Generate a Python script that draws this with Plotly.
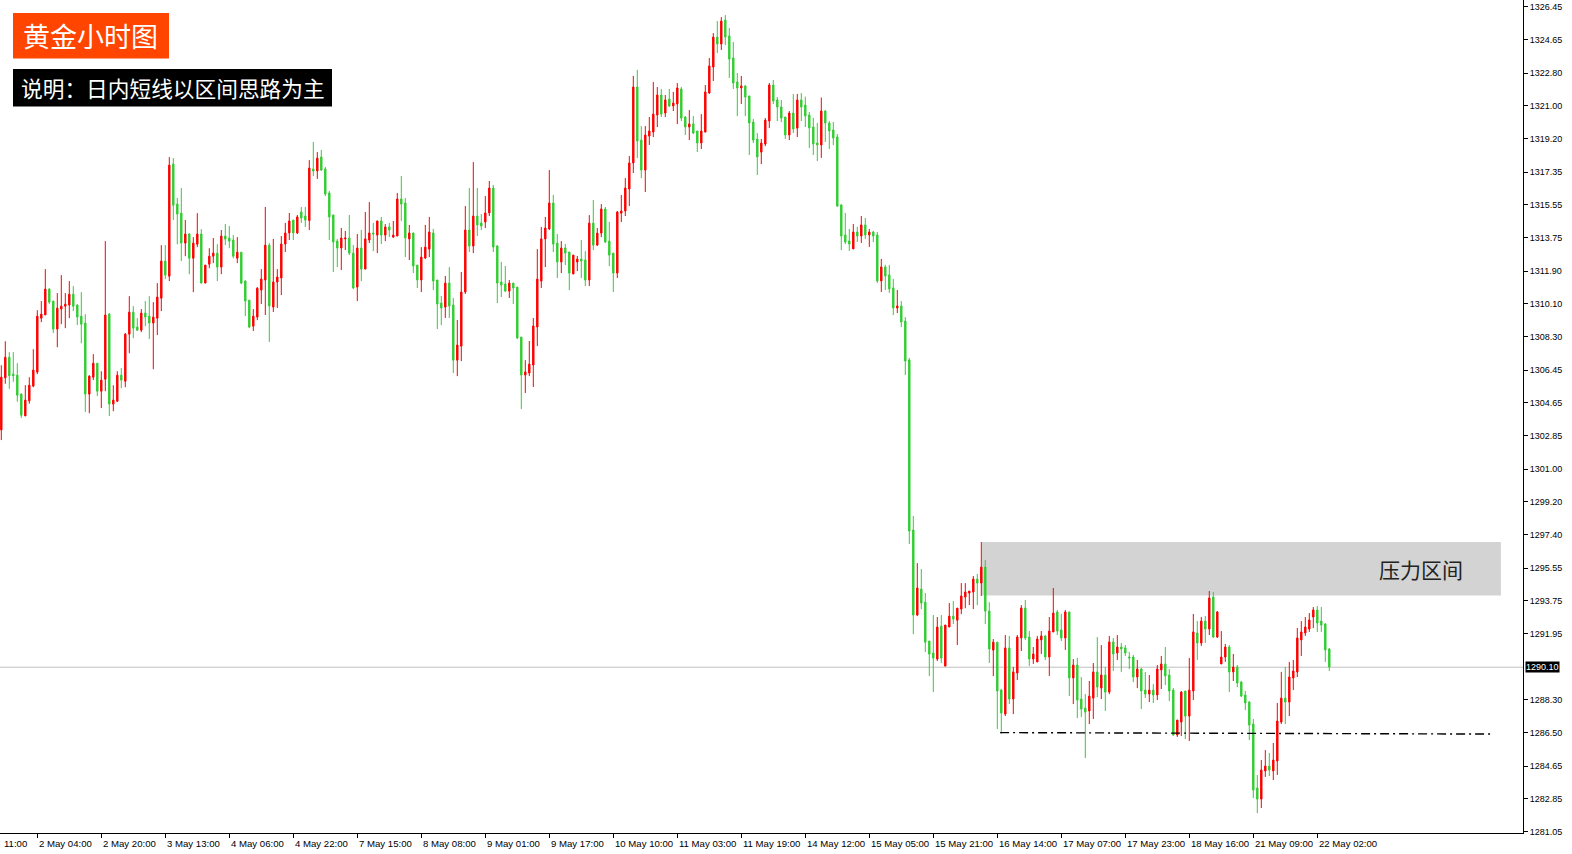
import plotly.graph_objects as go

# ---------------- data (hourly gold candles) ----------------
opens = [
1303.16,1306.03,1307.16,1306.23,1306.17,1305.13,1303.93,1304.76,1305.57,1306.34,
1309.31,1309.49,1310.91,1310.25,1308.71,1309.81,1309.97,1310.03,1310.63,1310.03,
1309.42,1309.04,1305.13,1306.06,1306.83,1305.29,1305.95,1309.53,1304.58,1304.74,
1306.17,1305.84,1308.43,1309.64,1308.82,1308.65,1309.59,1309.42,1309.04,1309.31,
1310.41,1312.45,1311.62,1317.79,1315.59,1315.09,1313.44,1313.94,1312.61,1313.38,
1313.94,1311.24,1312.28,1312.72,1312.89,1312.12,1313.83,1313.72,1313.61,1312.61,
1312.94,1311.35,1310.30,1308.87,1309.37,1310.86,1311.41,1313.33,1309.92,1311.30,
1311.52,1313.39,1314.00,1314.71,1314.00,1315.15,1314.93,1314.68,1317.52,1317.41,
1318.18,1317.52,1316.20,1314.99,1313.55,1313.17,1313.67,1313.72,1312.89,1311.02,
1313.17,1312.01,1313.61,1314.00,1313.88,1314.66,1313.88,1314.33,1313.77,1313.83,
1315.87,1315.65,1313.67,1314.00,1312.23,1311.41,1312.62,1313.11,1314.00,1311.41,
1310.14,1309.92,1311.24,1310.03,1307.00,1307.77,1310.75,1314.16,1313.28,1314.93,
1314.55,1314.60,1315.10,1316.47,1313.28,1311.30,1311.19,1310.80,1311.24,1311.02,
1308.27,1306.18,1306.29,1306.73,1308.82,1311.35,1313.67,1314.22,1315.65,1313.44,
1312.40,1313.17,1312.95,1311.74,1312.40,1312.56,1312.51,1311.41,1314.54,1313.33,
1313.99,1315.32,1313.55,1312.89,1311.79,1315.09,1315.21,1316.42,1317.85,1322.03,
1319.11,1317.46,1319.33,1319.55,1320.49,1321.59,1320.60,1321.37,1320.99,1321.10,
1321.92,1320.38,1319.83,1320.00,1319.61,1318.95,1319.55,1321.70,1323.13,1324.78,
1324.40,1325.72,1324.84,1323.63,1322.31,1321.98,1322.09,1321.54,1320.10,1319.17,
1318.45,1318.89,1320.16,1322.14,1321.32,1320.93,1320.38,1319.39,1320.60,1319.77,
1321.32,1321.04,1320.49,1319.83,1318.95,1318.84,1320.71,1320.05,1319.67,1319.28,
1315.54,1313.89,1313.56,1313.12,1314.05,1313.83,1314.44,1313.89,1314.05,1313.89,
1311.36,1312.13,1311.69,1310.97,1309.87,1309.98,1309.15,1307.01,1297.65,1292.97,
1294.40,1293.68,1291.54,1290.88,1290.55,1292.36,1290.16,1292.31,1292.91,1292.69,
1293.30,1293.96,1294.18,1294.24,1294.95,1294.73,1295.61,1293.19,1291.04,1291.48,
1288.84,1287.52,1291.16,1288.35,1289.78,1291.71,1293.36,1291.76,1290.55,1290.39,
1291.60,1291.82,1290.66,1292.04,1293.14,1292.15,1291.71,1293.14,1289.51,1290.22,
1288.35,1287.85,1287.69,1288.40,1289.84,1288.95,1289.67,1288.73,1291.49,1290.88,
1291.21,1291.16,1290.66,1290.66,1289.56,1290.00,1288.84,1288.62,1288.84,1288.57,
1289.95,1290.28,1289.67,1288.84,1286.37,1287.08,1288.79,1287.41,1288.79,1291.98,
1291.43,1292.64,1292.20,1293.96,1291.76,1290.28,1290.66,1291.21,1289.84,1290.11,
1289.28,1288.57,1288.18,1286.97,1283.45,1282.84,1284.39,1284.66,1284.39,1284.94,
1287.08,1288.40,1288.18,1289.51,1289.84,1291.60,1291.98,1292.20,1292.86,1293.25,
1292.64,1292.48,1291.10,
]
highs = [
1306.72,1308.04,1307.44,1307.44,1306.83,1305.18,1305.62,1306.06,1307.60,1309.75,
1310.25,1312.01,1310.96,1310.25,1310.69,1311.68,1310.69,1311.35,1311.07,1310.08,
1310.74,1309.53,1306.17,1307.33,1306.83,1306.39,1313.55,1309.59,1305.62,1306.39,
1306.56,1308.49,1310.52,1309.97,1309.31,1309.81,1310.25,1310.52,1310.19,1311.24,
1313.33,1313.33,1318.17,1318.12,1315.92,1316.47,1314.71,1313.99,1313.77,1315.09,
1314.21,1312.23,1313.16,1313.72,1313.38,1314.16,1314.49,1314.38,1313.88,1313.77,
1312.94,1311.40,1310.30,1309.81,1311.02,1312.01,1315.43,1313.44,1313.67,1312.01,
1313.83,1314.55,1315.10,1314.71,1314.99,1315.43,1315.43,1318.01,1319.00,1318.45,
1318.56,1317.63,1316.31,1314.99,1313.67,1314.27,1314.11,1314.99,1313.33,1313.94,
1314.16,1315.15,1315.70,1314.55,1314.66,1314.88,1314.49,1314.55,1314.66,1316.20,
1317.13,1315.92,1314.44,1314.00,1312.23,1313.22,1314.44,1314.88,1314.22,1311.41,
1310.53,1311.63,1312.12,1310.42,1309.21,1311.85,1315.48,1316.47,1317.90,1316.47,
1315.04,1316.03,1316.86,1316.64,1313.33,1312.40,1312.18,1311.41,1311.24,1311.02,
1308.27,1307.00,1308.05,1309.32,1313.11,1314.33,1314.88,1317.46,1316.09,1313.94,
1313.55,1313.39,1312.95,1312.78,1312.73,1313.61,1313.00,1314.98,1315.81,1314.27,
1315.59,1315.43,1314.60,1312.89,1315.21,1316.09,1317.02,1318.23,1322.64,1322.97,
1319.88,1319.88,1320.38,1322.31,1322.03,1321.92,1321.59,1321.92,1321.76,1322.25,
1322.03,1320.43,1320.76,1320.43,1319.61,1320.54,1322.14,1323.63,1325.00,1325.66,
1325.88,1325.99,1325.28,1324.51,1322.80,1322.64,1322.14,1321.54,1320.27,1319.50,
1319.17,1320.32,1322.25,1322.42,1321.48,1321.32,1320.38,1320.71,1321.65,1321.65,
1321.70,1321.50,1320.66,1320.33,1320.05,1321.45,1320.77,1320.16,1320.11,1319.45,
1315.59,1315.10,1314.22,1314.49,1314.33,1314.93,1314.82,1314.22,1314.11,1314.05,
1312.57,1312.24,1312.24,1311.47,1310.86,1310.25,1309.37,1307.12,1298.42,1295.83,
1295.50,1294.18,1291.54,1292.97,1292.86,1292.97,1292.42,1293.63,1293.74,1293.35,
1294.73,1294.73,1294.29,1295.12,1295.23,1296.99,1296.00,1293.68,1291.65,1291.48,
1288.90,1291.87,1291.82,1290.11,1291.87,1293.52,1293.80,1292.09,1291.21,1291.82,
1292.09,1291.87,1292.86,1294.46,1293.25,1293.03,1293.25,1293.14,1290.55,1290.61,
1289.56,1288.62,1289.34,1290.33,1291.76,1291.32,1290.11,1291.82,1291.71,1291.87,
1291.43,1291.32,1290.94,1290.77,1290.50,1290.06,1289.84,1289.67,1289.17,1290.22,
1290.72,1291.21,1290.00,1288.95,1287.19,1288.79,1288.79,1290.61,1293.03,1292.64,
1292.86,1292.92,1294.29,1294.24,1293.19,1292.09,1291.38,1291.32,1290.83,1290.22,
1289.34,1288.79,1288.24,1287.25,1284.17,1284.99,1285.54,1285.38,1285.93,1288.13,
1289.84,1290.11,1290.39,1290.50,1292.26,1292.64,1292.86,1293.08,1293.41,1293.47,
1293.41,1292.53,1291.16,
]
lows = [
1302.60,1305.70,1305.42,1305.81,1304.71,1303.82,1303.93,1304.60,1305.51,1306.23,
1309.09,1309.49,1310.08,1308.49,1307.71,1308.98,1308.76,1309.31,1309.70,1308.93,
1307.93,1304.14,1304.08,1305.90,1305.02,1304.36,1305.29,1303.92,1304.19,1304.69,
1305.46,1305.51,1307.38,1308.21,1308.60,1308.54,1308.87,1308.16,1306.50,1308.38,
1309.70,1311.46,1311.35,1314.71,1313.38,1312.45,1312.72,1311.73,1310.74,1313.22,
1311.24,1311.24,1312.06,1312.34,1311.35,1311.73,1313.33,1313.16,1312.61,1312.34,
1311.18,1309.42,1308.76,1308.60,1309.20,1310.09,1309.48,1308.00,1309.65,1309.87,
1310.58,1312.95,1313.61,1313.61,1313.94,1314.55,1314.33,1314.16,1317.13,1316.97,
1317.41,1316.03,1313.61,1311.85,1312.12,1311.96,1313.06,1312.78,1310.91,1310.25,
1311.35,1312.01,1313.44,1313.00,1312.89,1313.39,1313.55,1313.77,1313.72,1313.83,
1314.66,1312.67,1312.51,1311.79,1310.97,1310.75,1312.56,1312.67,1310.86,1308.71,
1308.93,1309.32,1309.32,1306.29,1306.12,1306.95,1310.64,1312.95,1312.89,1313.83,
1314.16,1314.27,1314.93,1312.95,1310.14,1310.47,1310.75,1310.42,1310.09,1308.16,
1304.31,1305.19,1306.12,1305.52,1307.77,1310.97,1312.12,1314.16,1312.95,1311.52,
1311.79,1312.23,1310.86,1311.74,1311.90,1311.52,1311.08,1311.08,1313.06,1313.28,
1313.77,1313.44,1312.18,1310.75,1311.52,1314.60,1314.93,1315.48,1317.30,1318.12,
1317.02,1316.25,1318.84,1319.28,1319.83,1320.38,1320.38,1320.93,1320.71,1319.99,
1320.16,1319.39,1319.11,1319.44,1318.45,1318.62,1319.55,1321.65,1322.36,1323.90,
1324.07,1324.34,1322.53,1321.92,1320.43,1321.10,1320.43,1318.29,1318.95,1317.19,
1317.79,1318.78,1319.77,1321.10,1320.16,1320.10,1319.17,1319.11,1319.50,1319.28,
1320.16,1319.83,1318.68,1318.29,1317.96,1318.13,1319.01,1318.62,1318.84,1315.43,
1313.06,1313.39,1313.01,1313.12,1313.50,1313.45,1313.67,1313.23,1313.50,1311.25,
1310.75,1310.86,1310.70,1309.48,1309.59,1308.82,1306.18,1296.88,1291.92,1292.91,
1293.30,1290.93,1289.61,1288.73,1290.44,1290.33,1290.16,1292.31,1292.47,1291.32,
1293.02,1293.35,1293.52,1293.30,1293.52,1294.02,1292.47,1290.33,1289.61,1286.70,
1286.44,1287.41,1288.07,1287.52,1289.39,1290.99,1291.60,1290.17,1290.28,1290.39,
1290.83,1290.50,1289.62,1292.04,1291.87,1291.54,1291.05,1288.51,1288.07,1287.30,
1287.36,1285.10,1286.97,1287.25,1288.46,1288.35,1287.69,1288.62,1289.89,1290.50,
1289.84,1290.72,1290.00,1289.28,1288.95,1287.80,1288.40,1288.18,1288.13,1288.29,
1288.90,1289.12,1288.24,1286.31,1286.26,1286.31,1286.15,1286.04,1288.29,1290.50,
1291.27,1291.43,1291.87,1291.71,1291.71,1290.28,1290.39,1288.73,1289.34,1289.01,
1288.46,1287.74,1286.09,1282.90,1282.07,1282.35,1284.06,1284.11,1283.89,1284.17,
1286.97,1286.97,1287.41,1288.84,1289.56,1290.72,1291.82,1292.04,1292.26,1292.04,
1292.04,1290.39,1289.89,
]
closes = [
1306.06,1307.16,1306.14,1306.14,1305.07,1303.97,1304.80,1305.62,1306.45,1309.42,
1309.53,1310.91,1310.19,1308.71,1309.86,1309.97,1310.08,1310.63,1309.97,1309.37,
1308.98,1305.13,1306.12,1306.83,1305.29,1305.90,1309.48,1304.58,1304.80,1306.17,
1305.90,1308.43,1309.64,1308.76,1308.65,1309.59,1309.37,1309.04,1309.37,1310.47,
1312.45,1311.68,1317.73,1315.53,1315.04,1313.44,1313.94,1312.61,1313.44,1313.94,
1311.24,1312.23,1312.72,1312.89,1312.12,1313.83,1313.66,1313.55,1312.72,1312.94,
1311.24,1310.25,1308.82,1309.42,1310.96,1311.46,1313.33,1309.98,1311.30,1311.57,
1313.39,1314.00,1314.66,1314.00,1314.88,1314.82,1314.71,1317.57,1317.41,1318.12,
1317.46,1316.14,1314.88,1313.50,1313.17,1313.72,1313.72,1312.89,1310.97,1313.17,
1312.01,1313.67,1314.00,1313.94,1314.66,1313.88,1314.33,1314.16,1313.88,1315.87,
1315.59,1313.72,1314.00,1312.18,1311.41,1312.67,1313.22,1314.05,1311.35,1310.09,
1309.87,1311.24,1309.98,1307.00,1307.83,1310.75,1314.16,1313.28,1314.93,1314.44,
1314.38,1315.10,1316.47,1313.22,1311.24,1311.13,1310.80,1311.24,1310.97,1308.22,
1306.18,1306.35,1306.78,1308.88,1311.46,1313.67,1314.27,1315.65,1313.39,1312.40,
1313.17,1312.89,1311.79,1312.78,1312.56,1312.45,1311.41,1314.54,1313.33,1313.99,
1315.32,1313.50,1312.78,1311.79,1315.15,1315.21,1316.47,1317.85,1322.03,1319.06,
1317.46,1319.39,1319.61,1320.54,1321.59,1320.54,1321.32,1320.99,1321.15,1321.98,
1320.32,1319.83,1320.00,1319.50,1318.95,1319.61,1321.76,1323.19,1324.78,1324.40,
1325.66,1324.78,1323.57,1322.25,1321.98,1322.09,1321.48,1320.05,1319.11,1318.18,
1318.95,1320.21,1322.14,1321.26,1320.93,1320.32,1319.39,1320.60,1319.72,1321.32,
1320.93,1320.44,1319.78,1318.90,1318.84,1320.71,1320.05,1319.61,1319.23,1315.48,
1313.83,1313.50,1313.39,1314.05,1313.83,1314.44,1313.89,1314.05,1313.83,1311.36,
1312.13,1311.63,1310.92,1309.87,1309.98,1309.10,1306.95,1297.59,1292.97,1294.46,
1293.63,1291.48,1290.82,1290.60,1292.31,1290.60,1292.42,1292.91,1292.75,1293.35,
1294.02,1294.24,1294.29,1294.95,1294.73,1295.61,1293.19,1291.10,1291.48,1288.79,
1287.58,1291.16,1288.35,1289.84,1291.76,1293.36,1291.71,1290.55,1290.83,1291.65,
1291.82,1290.66,1292.09,1293.08,1292.09,1291.71,1293.14,1289.51,1290.22,1288.29,
1287.80,1287.63,1288.51,1289.84,1289.01,1289.67,1288.73,1291.49,1290.83,1291.21,
1291.10,1290.88,1290.61,1289.56,1290.00,1288.79,1288.62,1288.84,1288.57,1290.00,
1290.28,1289.62,1288.79,1286.37,1287.19,1288.73,1287.41,1288.84,1292.04,1291.43,
1292.64,1292.20,1293.91,1291.76,1293.14,1290.66,1291.21,1289.84,1290.11,1289.23,
1288.51,1288.13,1286.92,1283.34,1282.84,1284.44,1284.66,1284.44,1284.99,1287.14,
1288.40,1288.18,1289.56,1289.89,1291.71,1292.04,1292.31,1292.70,1293.25,1292.53,
1292.42,1291.05,1290.11,
]

x_tick_index = [9, 25, 41, 57, 73, 89, 105, 121, 137, 153, 169, 185, 201, 217,
                233, 249, 265, 281, 297, 313, 329]
x_tick_labels = ["2 May 04:00", "2 May 20:00", "3 May 13:00", "4 May 06:00",
                 "4 May 22:00", "7 May 15:00", "8 May 08:00", "9 May 01:00",
                 "9 May 17:00", "10 May 10:00", "11 May 03:00", "11 May 19:00",
                 "14 May 12:00", "15 May 05:00", "15 May 21:00", "16 May 14:00",
                 "17 May 07:00", "17 May 23:00", "18 May 16:00", "21 May 09:00",
                 "22 May 02:00"]
partial_label = "11:00"

y_tick_values = [1326.45, 1324.65, 1322.80, 1321.00, 1319.20, 1317.35, 1315.55,
                 1313.75, 1311.90, 1310.10, 1308.30, 1306.45, 1304.65, 1302.85,
                 1301.00, 1299.20, 1297.40, 1295.55, 1293.75, 1291.95, 1288.30,
                 1286.50, 1284.65, 1282.85, 1281.05]
current_price = 1290.10

zone_start, zone_end = 245.1, 374.9      # candle positions of the resistance band
zone_low, zone_high = 1294.05, 1296.99
zone_label = "压力区间"

support_start, support_end = 249.7, 372.4
support_left, support_right = 1286.50, 1286.42

title_text = "黄金小时图"
note_text = "说明：日内短线以区间思路为主"

# ---------------- layout constants ----------------
W, H = 1572, 854
PLOT_W, PLOT_H = 1523, 833
X_RANGE = [-0.325, -0.325 + PLOT_W / 4.0]
Y_RANGE = [1326.82 - PLOT_H * 0.055036, 1326.82]

RED = "#ff0000"
GREEN = "#32cd32"
AXIS_FONT = dict(family="Liberation Sans, Arial, sans-serif", size=9, color="#000000")
XLAB_FONT = dict(family="Liberation Sans, Arial, sans-serif", size=9.6, color="#000000")
CJK = "Noto Sans CJK SC, sans-serif"


def px_x(p):
    return p / PLOT_W


def px_y(p):
    return 1 - p / PLOT_H


idx = list(range(len(closes)))

fig = go.Figure()
fig.add_trace(go.Candlestick(
    x=idx, open=opens, high=highs, low=lows, close=closes,
    increasing=dict(line=dict(color=RED, width=1), fillcolor=RED),
    decreasing=dict(line=dict(color=GREEN, width=1), fillcolor=GREEN),
    whiskerwidth=0, showlegend=False, hoverinfo="skip",
))

shapes = []
# current price line
shapes.append(dict(type="line", xref="paper", yref="y", x0=0, x1=1,
                   y0=current_price, y1=current_price,
                   line=dict(color="#c0c0c0", width=1), layer="below"))
# resistance band
shapes.append(dict(type="rect", xref="x", yref="y", x0=zone_start, x1=zone_end,
                   y0=zone_low, y1=zone_high, fillcolor="#d3d3d3",
                   line=dict(width=0), layer="below"))
# support dash-dot line
shapes.append(dict(type="line", xref="x", yref="y", x0=support_start, x1=support_end,
                   y0=support_left, y1=support_right,
                   line=dict(color="#000000", width=1.4, dash="9px,4px,2px,4px")))
# title boxes
shapes.append(dict(type="rect", xref="paper", yref="paper",
                   x0=px_x(13), x1=px_x(169), y0=px_y(58.5), y1=px_y(13),
                   fillcolor="#ff4500", line=dict(width=0)))
shapes.append(dict(type="rect", xref="paper", yref="paper",
                   x0=px_x(13), x1=px_x(332), y0=px_y(106.5), y1=px_y(69),
                   fillcolor="#000000", line=dict(width=0)))

annotations = []
annotations.append(dict(xref="paper", yref="paper", x=px_x(90), y=px_y(36),
                        text=title_text, showarrow=False, xanchor="center", yanchor="middle",
                        font=dict(family=CJK, size=27, color="#ffffff")))
annotations.append(dict(xref="paper", yref="paper", x=px_x(172.5), y=px_y(87.5),
                        text=note_text, showarrow=False, xanchor="center", yanchor="middle",
                        font=dict(family=CJK, size=21.7, color="#ffffff")))
annotations.append(dict(xref="paper", yref="y", x=px_x(1421), y=(zone_low + zone_high) / 2,
                        text=zone_label, showarrow=False, xanchor="center", yanchor="middle",
                        font=dict(family=CJK, size=21, color="#222222")))
# current price tag on the axis
annotations.append(dict(xref="paper", yref="y", x=1, y=current_price, xanchor="left",
                        yanchor="middle", xshift=2, text=f"{current_price:.2f}",
                        showarrow=False, bgcolor="#000000", borderpad=0,
                        font=dict(family=AXIS_FONT["family"], size=9, color="#ffffff")))
# time labels (drawn to the right of their tick marks)
for xi, lab in zip(x_tick_index, x_tick_labels):
    annotations.append(dict(xref="x", yref="paper", x=xi, y=0, xanchor="left",
                            yanchor="middle", xshift=0, yshift=-10, text=lab,
                            showarrow=False, font=XLAB_FONT))
annotations.append(dict(xref="paper", yref="paper", x=0, y=0, xanchor="left",
                        yanchor="middle", xshift=2, yshift=-10, text=partial_label,
                        showarrow=False, font=XLAB_FONT))

fig.update_layout(
    width=W, height=H,
    margin=dict(l=0, r=W - PLOT_W, t=0, b=H - PLOT_H, pad=0),
    paper_bgcolor="#ffffff", plot_bgcolor="#ffffff",
    boxgap=0.5,
    shapes=shapes, annotations=annotations,
    showlegend=False,
    xaxis=dict(range=X_RANGE, showgrid=False, zeroline=False, showline=True,
               linecolor="#000000", linewidth=1, ticks="outside", ticklen=4,
               tickcolor="#000000", tickvals=x_tick_index, showticklabels=False,
               rangeslider=dict(visible=False), automargin=False, fixedrange=True),
    yaxis=dict(range=Y_RANGE, side="right", showgrid=False, zeroline=False,
               showline=True, linecolor="#000000", linewidth=1, ticks="outside",
               ticklen=4, tickcolor="#000000", tickvals=y_tick_values,
               ticktext=[f"{v:.2f}" for v in y_tick_values], tickfont=AXIS_FONT,
               automargin=False, fixedrange=True),
)

fig.write_html("out.html", config={"displayModeBar": False},
               post_script="document.body.style.margin='0';document.body.style.overflow='hidden';")
